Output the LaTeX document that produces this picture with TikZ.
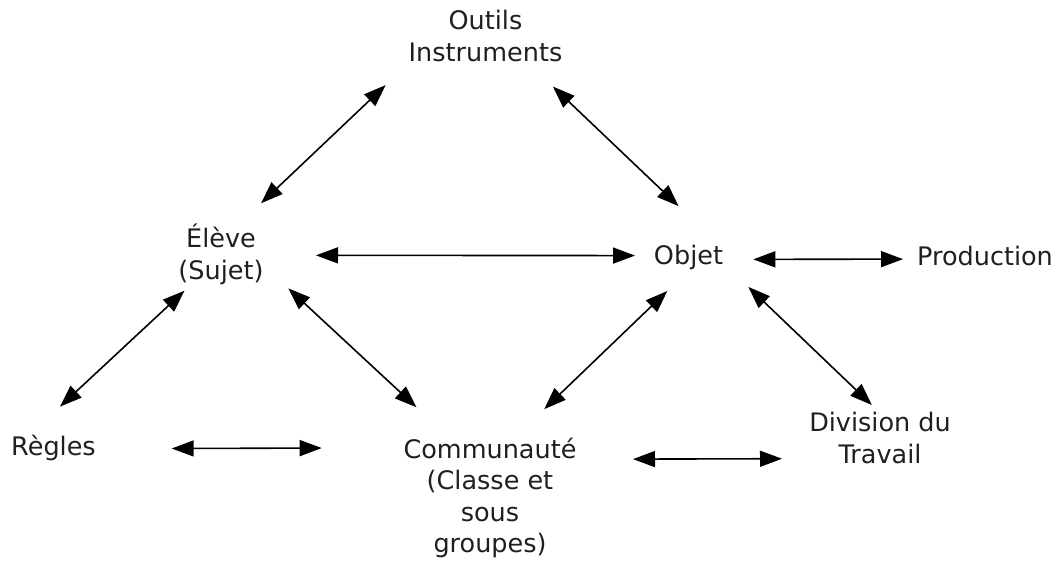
\documentclass[tikz,border=0pt]{standalone}
\usepackage{fontspec}
\setmainfont{DejaVu Sans}
\usetikzlibrary{arrows.meta}
\begin{document}
\begin{tikzpicture}[x=1pt,y=-1pt,
  lbl/.style={inner sep=0pt, outer sep=0pt, align=center, text=black!88,
    font=\fontsize{25.5}{31.5}\selectfont},
  biarrow/.style={line width=1.6pt,
    {Triangle[length=22pt,width=16pt]}-{Triangle[length=22pt,width=16pt]}}]
\useasboundingbox (0,0) rectangle (1060,562);
\node[lbl, minimum width=159pt, minimum height=52pt] (outils) at (485.5,36) {Outils\\Instruments};
\node[lbl, minimum width=92pt, minimum height=65pt] (eleve) at (221,254.5) {Élève\\(Sujet)};
\node[lbl, minimum width=73pt, minimum height=25pt] (objet) at (688.5,257.5) {Objet};
\node[lbl, minimum width=137pt, minimum height=21pt] (prod) at (985,255.5) {Production};
\node[lbl, minimum width=87pt, minimum height=24pt] (regles) at (53.5,448) {Règles};
\node[lbl, minimum width=174pt, minimum height=120pt] (comm) at (490,498) {Communauté\\(Classe et\\sous\\groupes)};
\node[lbl, minimum width=144pt, minimum height=56pt] (div) at (880,438) {Division du\\Travail};

\draw[biarrow, shorten <=27.3pt, shorten >=33.6pt] (eleve.58.6) -- (outils.199.3);
\draw[biarrow, shorten <=35.6pt, shorten >=56.3pt] (outils.328.9) -- (objet.22.4);
\draw[biarrow, shorten <=49pt, shorten >=17pt] (eleve.-1.9) -- (objet.177.6);
\draw[biarrow, shorten <=28.3pt, shorten >=13.5pt] (objet.-3.9) -- (prod.183.8);
\draw[biarrow, shorten <=5.4pt, shorten >=41.9pt] (eleve.225.4) -- (regles.152.9);
\draw[biarrow, shorten <=29.1pt, shorten >=45pt] (eleve.343.1) -- (comm.124.4);
\draw[biarrow, shorten <=30.3pt, shorten >=41.5pt] (objet.273.2) -- (comm.68.1);
\draw[biarrow, shorten <=32.3pt, shorten >=7.2pt] (objet.349.3) -- (div.96.3);
\draw[biarrow, shorten <=74.7pt, shorten >=81.3pt] (regles.-1.7) -- (comm.150.8);
\draw[biarrow, shorten <=56pt, shorten >=26pt] (comm.24.1) -- (div.196.3);
\end{tikzpicture}
\end{document}
